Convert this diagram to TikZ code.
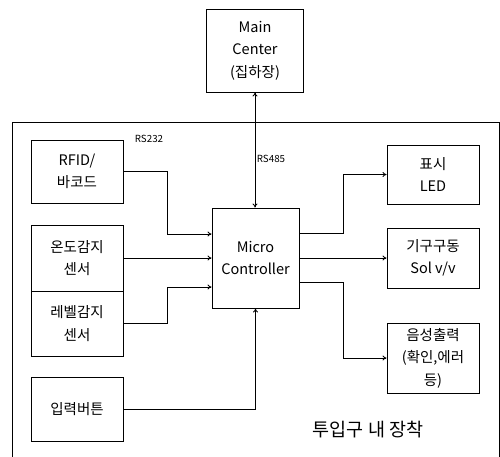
\documentclass[tikz,border=0pt]{standalone}
\usepackage{fontspec}
\setmainfont{Noto Sans CJK KR}
\usetikzlibrary{arrows.meta}
\begin{document}
\begin{tikzpicture}[x=1pt,y=-1pt,
  box/.style={draw,line width=0.9pt,align=center,inner sep=0pt,
    font=\fontsize{14.5}{22.5}\selectfont},
  arr/.style={line width=0.8pt,-{To[length=4pt,width=5pt]}},
  lbl/.style={font=\fontsize{9.8}{10}\selectfont,inner sep=0pt}]
\useasboundingbox (0,0) rectangle (500,456);
\draw[line width=0.9pt] (12,470) -- (12,122) -- (499,122) -- (499,470);
\node[box,minimum width=97pt,minimum height=83pt] (main) at (255,50.5) {Main\\Center\\(집하장)};
\node[box,minimum width=92pt,minimum height=63pt] (rfid) at (77,171.5) {RFID/\\바코드};
\node[box,minimum width=92pt,minimum height=66pt] (temp) at (77,258) {온도감지\\센서};
\node[box,minimum width=92pt,minimum height=65pt] (level) at (77,323.5) {레벨감지\\센서};
\node[box,minimum width=92pt,minimum height=64pt] (btn) at (77,409) {입력버튼};
\node[box,minimum width=87pt,minimum height=100pt] (mc) at (255.5,258) {Micro\\Controller};
\node[box,minimum width=92pt,minimum height=59pt] (led) at (433,174.5) {표시\\LED};
\node[box,minimum width=92pt,minimum height=60pt] (sol) at (433,258) {기구구동\\Sol v/v};
\node[box,minimum width=92pt,minimum height=70pt] (voice) at (433,358) {음성출력\\(확인,에러\\등)};
\node[lbl] (rs232) at (149,139) {RS232};
\node[lbl] (rs485) at (271,159) {RS485};
\node[font=\fontsize{18.5}{20}\selectfont,inner sep=0pt] (title) at (368,430) {투입구 내 장착};
\draw[line width=0.8pt,{To[length=4pt,width=5pt]}-{To[length=4pt,width=5pt]}] (main.south) -- (main.south |- mc.north);
\draw[arr] (rfid.east) -- ++(44,0) |- ([yshift=24pt]mc.west);
\draw[arr] (temp.east) -- (mc.west);
\draw[arr] (level.east) -- ++(44,0) |- ([yshift=-29pt]mc.west);
\draw[arr] (btn.east) -| (mc.south);
\draw[arr] ([yshift=25pt]mc.east) -- ++(44,0) |- (led.west);
\draw[arr] (mc.east) -- (sol.west);
\draw[arr] ([yshift=-24pt]mc.east) -- ++(44,0) |- (voice.west);
\end{tikzpicture}
\end{document}
